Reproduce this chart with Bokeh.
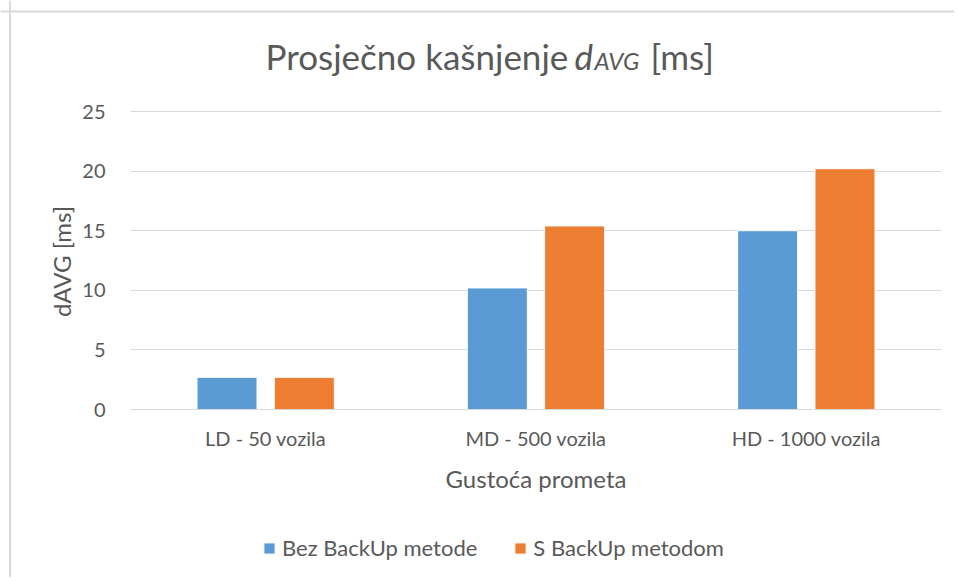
import numpy as np
from bokeh.plotting import figure
from bokeh.models import (ColumnDataSource, Range1d, Legend, LegendItem, Label, Span,
                          FixedTicker)
from bokeh.transform import dodge
from bokeh.embed import file_html
from bokeh.resources import INLINE

# ---- data ----
categories = ["LD - 50 vozila", "MD - 500 vozila", "HD - 1000 vozila"]
bez_backup = [2.7, 10.2, 15.0]
s_backup = [2.7, 15.4, 20.2]
series_names = ["Bez BackUp metode", "S BackUp metodom"]
y_ticks = [0, 5, 10, 15, 20, 25]
title_parts = ["Prosječno kašnjenje ", "d", "AVG", "[ms]"]
y_label = "dAVG [ms]"
x_label = "Gustoća prometa"

# ---- style / layout ----
FONT = "Lato"
GREY = "#595959"
BLUE = "#5b9bd5"
ORANGE = "#ed7d31"
GRID = "#d9d9d9"
W, H = 954, 577
# plot area in page pixels
PX0, PX1 = 130, 941      # category span
PY_TOP, PY_BOT = 111, 409  # value 25 / value 0

ncat = len(categories)
xs = np.arange(1, ncat + 1)
kx = (PX1 - PX0) / ncat
ky = (PY_BOT - PY_TOP) / y_ticks[-1]
x_range = Range1d(0.5 - PX0 / kx, ncat + 0.5 + (W - PX1) / kx)
y_range = Range1d(-(H - PY_BOT) / ky, y_ticks[-1] + PY_TOP / ky)

source = ColumnDataSource(data=dict(x=xs, a=bez_backup, b=s_backup))

p = figure(width=W, height=H, x_range=x_range, y_range=y_range,
           output_backend="svg", toolbar_location=None, min_border=0)
p.title.text = ""
p.title.visible = False
p.outline_line_color = None
p.background_fill_color = "white"
p.border_fill_color = "white"

r1 = p.vbar(x=dodge("x", -0.143), top="a", width=0.222, source=source,
            fill_color=BLUE, line_color="white", line_width=1)
r2 = p.vbar(x=dodge("x", 0.143), top="b", width=0.222, source=source,
            fill_color=ORANGE, line_color="white", line_width=1)

# axes
xa, ya = p.xaxis[0], p.yaxis[0]
xa.fixed_location = 0
ya.fixed_location = 0.5
xa.ticker = FixedTicker(ticks=list(xs))
xa.major_label_overrides = {**{int(i): c for i, c in zip(xs, categories)},
                            **{str(int(i)): c for i, c in zip(xs, categories)}}
xa.bounds = (0.5, ncat + 0.5)
ya.ticker = FixedTicker(ticks=y_ticks)
for ax in (xa, ya):
    ax.major_tick_line_color = None
    ax.minor_tick_line_color = None
    ax.major_label_text_font = FONT
    ax.major_label_text_color = GREY
    ax.major_label_text_font_size = "20px"
xa.axis_line_color = GRID
xa.axis_line_width = 1
ya.axis_line_color = None
xa.major_label_standoff = 10
ya.major_label_standoff = 19

p.xgrid.grid_line_color = None
p.ygrid.grid_line_color = GRID
p.ygrid.grid_line_width = 1
p.ygrid.cross_bounds = (0.5, ncat + 0.5)

# chart border (left & top)
p.add_layout(Span(location=9.5, dimension="height", location_units="screen",
                  line_color=GRID, line_width=2))
p.add_layout(Span(location=H - 11, dimension="width", location_units="screen",
                  line_color=GRID, line_width=2))

def lab(x, y_top, text, size, style="normal", align="left", baseline="alphabetic", angle=0.0):
    return Label(x=x, y=H - y_top, x_units="screen", y_units="screen", text=text,
                 text_font=FONT, text_font_size=size, text_color=GREY,
                 text_font_style=style, text_align=align, text_baseline=baseline,
                 angle=angle)

# title
TB = 55
p.add_layout(lab(265, TB, title_parts[0], "35px"))
p.add_layout(lab(574, TB, title_parts[1], "35px", "italic"))
p.add_layout(lab(594, TB + 5, title_parts[2], "24px", "italic"))
p.add_layout(lab(650, TB, title_parts[3], "35px"))

# axis titles
p.add_layout(lab(61, 261, y_label, "24px", align="center", baseline="middle", angle=np.pi / 2))
p.add_layout(lab((PX0 + PX1) / 2, 478, x_label, "24px", align="center", baseline="middle"))

legend = Legend(items=[LegendItem(label=series_names[0], renderers=[r1]),
                       LegendItem(label=series_names[1], renderers=[r2])],
                orientation="horizontal", location=(262, H - 561))
legend.label_text_font = FONT
legend.label_text_font_size = "22px"
legend.label_text_color = GREY
legend.glyph_width = 14
legend.glyph_height = 14
legend.label_standoff = 6
legend.spacing = 36
legend.padding = 0
legend.margin = 0
legend.border_line_color = None
legend.background_fill_alpha = 0
p.add_layout(legend, "center")

open("out.html", "w").write(file_html(p, INLINE))
